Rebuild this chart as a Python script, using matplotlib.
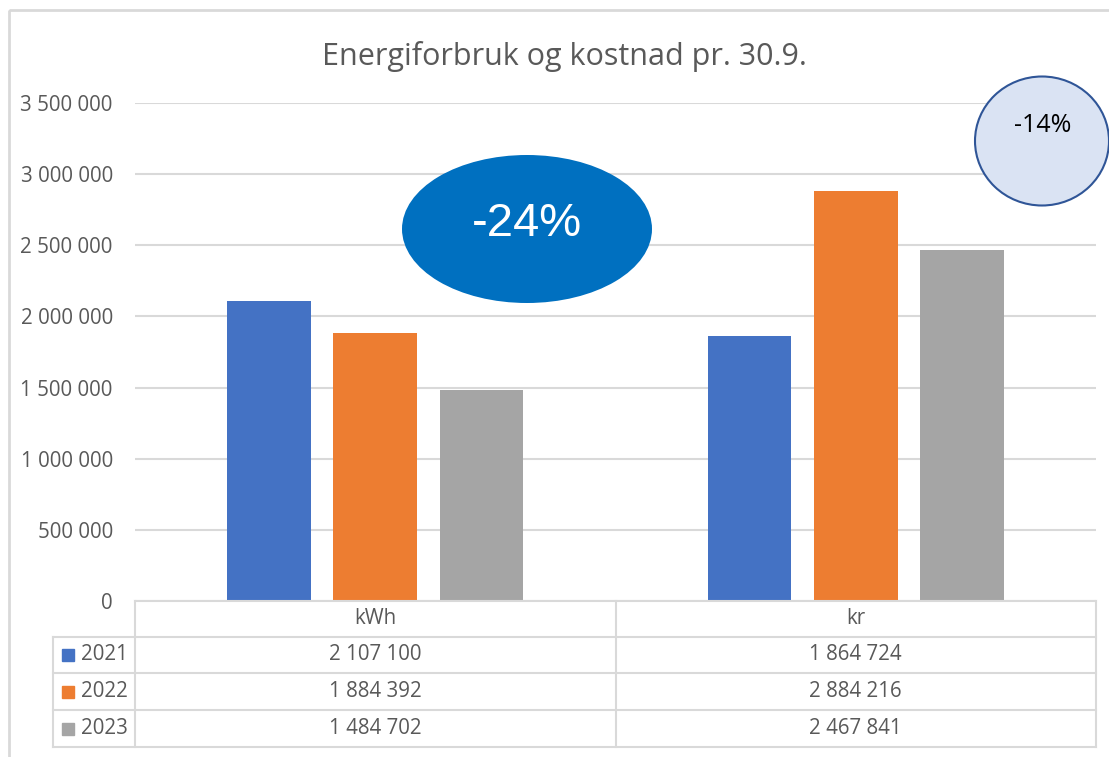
import matplotlib.pyplot as plt
from matplotlib.patches import Ellipse, Rectangle
import numpy as np

# --- data ---
categories = ['kWh', 'kr']
years = ['2021', '2022', '2023']
values = {
    '2021': [2107100, 1864724],
    '2022': [1884392, 2884216],
    '2023': [1484702, 2467841],
}
colors = ['#4472C4', '#ED7D31', '#A5A5A5']
yticks = [0, 500000, 1000000, 1500000, 2000000, 2500000, 3000000, 3500000]
title = 'Energiforbruk og kostnad pr. 30.9.'
big_label = '-24%'
small_label = '-14%'

W, H = 1109, 757
plt.rcParams['font.family'] = ['Open Sans', 'DejaVu Sans']
txt = '#595959'
grid = '#D9D9D9'
fs = 14.8


def fmt(v):
    return f'{v:,}'.replace(',', ' ')


fig = plt.figure(figsize=(W / 100, H / 100), dpi=100)

# plot area in pixel terms
px_l, px_r, px_t, px_b = 135, 1096, 103, 601
ax = fig.add_axes([px_l / W, 1 - px_b / H, (px_r - px_l) / W, (px_b - px_t) / H])

x = np.arange(len(categories))
step, bw = 0.221, 0.174
for i, yr in enumerate(years):
    ax.bar(x + (i - 1) * step, values[yr], width=bw, color=colors[i], zorder=3)

ax.set_xlim(-0.5, len(categories) - 0.5)
ax.set_ylim(0, yticks[-1])
ax.set_yticks(yticks)
ax.set_yticklabels([fmt(t) for t in yticks], fontsize=fs, color=txt)
ax.tick_params(axis='y', length=0, pad=16)
ax.set_xticks([])
ax.grid(axis='y', color=grid, linewidth=1.5, zorder=0)
for s in ax.spines.values():
    s.set_visible(False)

# overlay in pixel coordinates for frame, table, title and bubbles
ov = fig.add_axes([0, 0, 1, 1], zorder=5)
ov.set_xlim(0, W)
ov.set_ylim(H, 0)
ov.axis('off')
ov.patch.set_alpha(0)

# outer chart frame
ov.add_patch(Rectangle((9, 10), 1200, 800, fill=False, edgecolor=grid, linewidth=2))

ov.text(564, 57, title, ha='center', va='center', fontsize=22, color=txt)

# data table
col_w = (px_r - px_l) / len(categories)
row_y = [601, 637, 673, 710, 747]
leg_l = 53
lw = 1.5
ov.plot([px_l, px_r], [row_y[0], row_y[0]], color=grid, lw=lw)
for j in range(len(categories) + 1):
    xx = px_l + j * col_w
    ov.plot([xx, xx], [row_y[0], row_y[-1]], color=grid, lw=lw)
for k in range(1, len(row_y)):
    ov.plot([leg_l, px_r], [row_y[k], row_y[k]], color=grid, lw=lw)
ov.plot([leg_l, leg_l], [row_y[1], row_y[-1]], color=grid, lw=lw)

for j, c in enumerate(categories):
    ov.text(px_l + (j + 0.5) * col_w, (row_y[0] + row_y[1]) / 2, c,
            ha='center', va='center', fontsize=fs, color=txt)
for i, yr in enumerate(years):
    yc = (row_y[i + 1] + row_y[i + 2]) / 2
    ov.add_patch(Rectangle((62, yc - 6), 12, 12, color=colors[i]))
    ov.text(81, yc, yr, ha='left', va='center', fontsize=fs, color=txt)
    for j in range(len(categories)):
        ov.text(px_l + (j + 0.5) * col_w, yc, fmt(values[yr][j]),
                ha='center', va='center', fontsize=fs, color=txt)

# percentage bubbles
ov.add_patch(Ellipse((527, 229), 250, 148, facecolor='#0070C0', edgecolor='none'))
ov.text(527, 224, big_label, ha='center', va='center', fontsize=34,
        color='white', family='Liberation Sans')
ov.add_patch(Ellipse((1042, 141), 134, 129, facecolor='#DAE3F3',
                     edgecolor='#2F5597', linewidth=1.5))
ov.text(1043, 126, small_label, ha='center', va='center', fontsize=18, color='black')

fig.savefig('out.png', dpi=100)
